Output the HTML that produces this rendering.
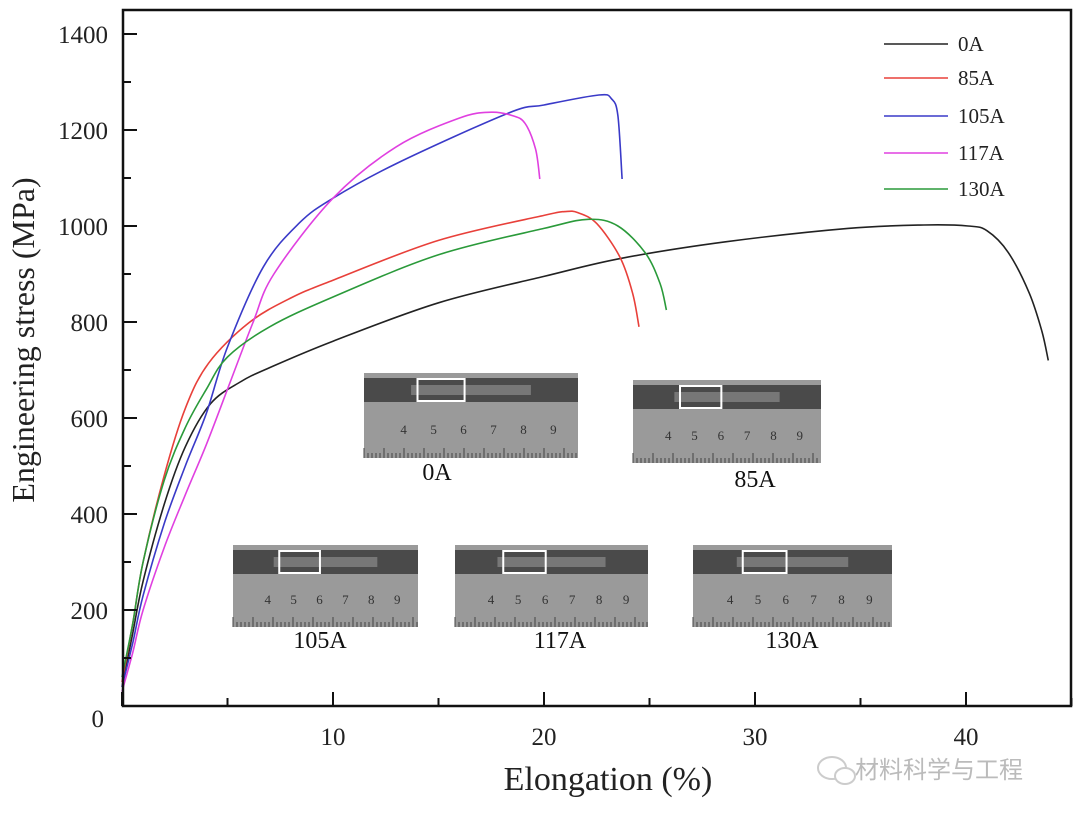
<!DOCTYPE html>
<html><head><meta charset="utf-8"><style>
body{margin:0;background:#fff;}
svg{display:block;font-family:"Liberation Serif",serif;}
</style></head><body>
<svg id="c" width="1080" height="817"></svg>
<script>
const xTicks=[10,20,30,40];
const yTicks=[0,200,400,600,800,1000,1200,1400];
const seriesNames=["0A","85A","105A","117A","130A"];
const seriesColors=["#222","#e8403a","#3a3ac8","#e040e0","#2a9a3a"];
const s0x=[0,0.5,1,2,3,4.2,5.6,7,10,15,20,23.7,28.6,34.4,38,40.1,41,42,43,43.6,43.9];
const s0y=[40,150,260,420,540,630,675,705,760,840,895,933,967,995,1002,1000,990,945,860,780,720];
const s85x=[0,0.5,1,2,3,4.1,6,8,10,15,20,21,21.6,22.5,23.6,24.2,24.5];
const s85y=[50,170,300,480,620,714,798,850,887,970,1022,1030,1028,1005,935,860,790];
const s105x=[0,0.5,1,2,3,4,5,6.7,8.4,10,13,18.3,20,22.6,23.2,23.5,23.7];
const s105y=[40,130,230,380,500,610,748,915,1006,1058,1130,1235,1252,1273,1265,1230,1098];
const s117x=[0,0.5,1,2,3,4,5,6.2,7.2,10,13,16,17.5,18.5,19.1,19.6,19.8];
const s117y=[30,110,200,330,440,545,660,798,900,1058,1165,1225,1237,1230,1214,1160,1098];
const s130x=[0,0.5,1,2,3,4,5,7,10,15,20,22.1,23.5,24.8,25.5,25.8];
const s130y=[60,170,300,470,580,660,727,790,852,940,995,1014,1000,944,880,825];
const SX=[s0x,s85x,s105x,s117x,s130x], SY=[s0y,s85y,s105y,s117y,s130y];
const L=123,T=10,R=1071,B=706;
const X=v=>122+v*21.1, Y=v=>706-v*0.48;
const svg=document.getElementById('c');const NS="http://www.w3.org/2000/svg";
function mk(t,a,p){const e=document.createElementNS(NS,t);for(const k in a)e.setAttribute(k,a[k]);(p||svg).appendChild(e);return e;}
function smooth(pts){let d='M'+pts[0][0].toFixed(1)+' '+pts[0][1].toFixed(1);
 for(let i=0;i<pts.length-1;i++){const p0=pts[Math.max(0,i-1)],p1=pts[i],p2=pts[i+1],p3=pts[Math.min(pts.length-1,i+2)];
  const c1=[p1[0]+(p2[0]-p0[0])/6,p1[1]+(p2[1]-p0[1])/6],c2=[p2[0]-(p3[0]-p1[0])/6,p2[1]-(p3[1]-p1[1])/6];
  d+=' C'+c1.map(v=>v.toFixed(1)).join(' ')+' '+c2.map(v=>v.toFixed(1)).join(' ')+' '+p2[0].toFixed(1)+' '+p2[1].toFixed(1);}
 return d;}
// photos
const photos=[["0A",364,373,214,85,437,480],["85A",633,380,188,83,755,487],["105A",233,545,185,82,320,648],["117A",455,545,193,82,560,648],["130A",693,545,199,82,792,648]];
photos.forEach(p=>{
 const g=mk('g',{});
 
 
 mk('rect',{x:p[1],y:p[2],width:p[3],height:p[4],fill:'#9a9a9a'},g);
 mk('rect',{x:p[1],y:p[2]+5,width:p[3],height:24,fill:'#4a4a4a'},g);
 mk('rect',{x:p[1]+p[3]*0.22,y:p[2]+12,width:p[3]*0.56,height:10,fill:'#777'},g);
 mk('rect',{x:p[1]+p[3]*0.25,y:p[2]+6,width:p[3]*0.22,height:22,fill:'none',stroke:'#fff','stroke-width':2},g);
 for(let i=0;i<6;i++){const t=mk('text',{x:p[1]+p[3]*(0.17+i*0.14),y:p[2]+p[4]*0.72,'font-size':13,fill:'#333'},g);t.textContent=i+4;}
 for(let i=0;i<p[3];i+=4)mk('line',{x1:p[1]+i,x2:p[1]+i,y1:p[2]+p[4],y2:p[2]+p[4]-(i%20==0?10:5),stroke:'#444','stroke-width':1},g);
 const t=mk('text',{x:p[5],y:p[6],'font-size':24,'text-anchor':'middle',fill:'#111'});
 
 
 t.textContent=p[0];
});
// series
SX.forEach((xs,i)=>{
 const pts=xs.map((v,j)=>[X(v),Y(SY[i][j])]);
 const p=mk('path',{d:smooth(pts),fill:'none',stroke:seriesColors[i],'stroke-width':1.6,'stroke-linejoin':'round'});
 
 
});
// frame
const fr=mk('rect',{x:L,y:T,width:R-L,height:B-T,fill:'none',stroke:'#111','stroke-width':2.5});


yTicks.forEach(v=>{
 mk('line',{x1:L,x2:L+14,y1:Y(v),y2:Y(v),stroke:'#111','stroke-width':2});
 if(v<1400)mk('line',{x1:L,x2:L+8,y1:Y(v+100),y2:Y(v+100),stroke:'#111','stroke-width':2});
 if(v===0)return;
 const t=mk('text',{x:108,y:Y(v)+9,'font-size':25,'text-anchor':'end',fill:'#222'});
 
 
 t.textContent=v;
});
[0].concat(xTicks).forEach(v=>{
 mk('line',{x1:X(v),x2:X(v),y1:B,y2:B-14,stroke:'#111','stroke-width':2});
 mk('line',{x1:X(v+5),x2:X(v+5),y1:B,y2:B-8,stroke:'#111','stroke-width':2});
});
xTicks.forEach(v=>{
 const t=mk('text',{x:X(v),y:745,'font-size':25,'text-anchor':'middle',fill:'#222'});
 
 
 t.textContent=v;
});
let t0=mk('text',{x:104,y:727,'font-size':25,'text-anchor':'end',fill:'#222'});t0.textContent='0';


let xt=mk('text',{x:608,y:790,'font-size':34,'text-anchor':'middle',fill:'#222'});xt.textContent='Elongation (%)';


let yt=mk('text',{x:0,y:0,'font-size':32,'text-anchor':'middle',fill:'#222',transform:'translate(34,340) rotate(-90)'});yt.textContent='Engineering stress (MPa)';


// legend
const ly=[44,78,116,153,189];
seriesNames.forEach((n,i)=>{
 const g=mk('g',{});
 
 
 mk('line',{x1:884,x2:948,y1:ly[i],y2:ly[i],stroke:seriesColors[i],'stroke-width':1.6},g);
 const t=mk('text',{x:958,y:ly[i]+7,'font-size':21,fill:'#222'},g);t.textContent=n;
});
let wm=mk('text',{x:855,y:778,'font-size':24,fill:'#bbb','font-family':'"Liberation Sans","Noto Sans CJK SC",sans-serif'});wm.textContent='材料科学与工程';


mk('ellipse',{cx:832,cy:768,rx:14,ry:11,fill:'none',stroke:'#ccc','stroke-width':2});
mk('ellipse',{cx:845,cy:776,rx:10,ry:8,fill:'#fff',stroke:'#ccc','stroke-width':2});
</script>
</body></html>
